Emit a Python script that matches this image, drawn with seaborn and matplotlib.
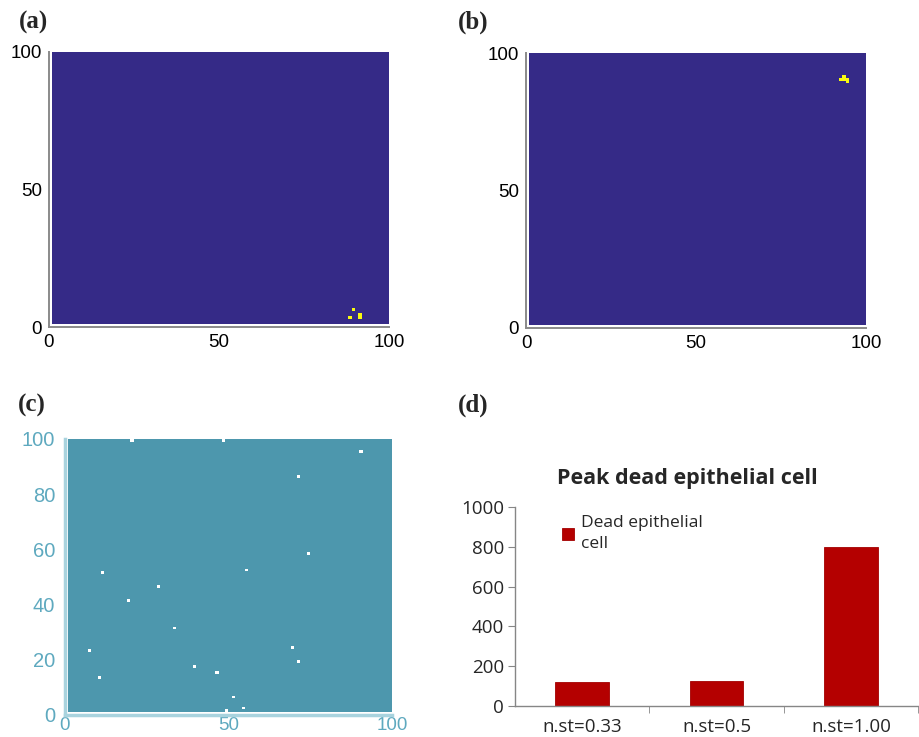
import numpy as np
import pandas as pd
import matplotlib
matplotlib.use("Agg")
import matplotlib.pyplot as plt
import seaborn as sns
from matplotlib.colors import ListedColormap

# ---------------- data ----------------
# lower-left corner (data units) of the yellow cells in maps (a) and (b)
a_cells_x = [89, 88, 91, 91]
a_cells_y = [6, 3, 3, 4]
b_cells_x = [93, 92, 93, 94, 94]
b_cells_y = [91, 90, 90, 90, 89]
# white cells in map (c)
c_dots_x = [20, 48, 90, 71, 74, 55, 11, 28, 19, 33, 7, 69, 71, 39, 46, 10, 51, 54, 49]
c_dots_y = [99, 99, 95, 86, 58, 52, 51, 46, 41, 31, 23, 24, 19, 17, 15, 13, 6, 2, 1]

map_ticks = [0, 50, 100]
c_xticks = [0, 50, 100]
c_yticks = [0, 20, 40, 60, 80, 100]

categories = ["n.st=0.33", "n.st=0.5", "n.st=1.00"]
dead_cells = [120, 128, 800]
series_name = "Dead epithelial\ncell"
bar_yticks = [0, 200, 400, 600, 800, 1000]

# ---------------- style ----------------
sns.set_style("white")
plt.rcParams["font.family"] = ["Liberation Sans", "DejaVu Sans"]

W, H = 920, 737
fig = plt.figure(figsize=(W / 100, H / 100), dpi=100)


def px_axes(x0, y_top, x1, y_bot):
    return fig.add_axes([x0 / W, 1 - y_bot / H, (x1 - x0) / W, (y_bot - y_top) / H])


def make_grid(xs, ys, n=99):
    g = np.zeros((n, n))
    for x, y in zip(xs, ys):
        g[y - 1, x - 1] = 1
    return pd.DataFrame(g)


parula_blue = "#352a87"
parula_yellow = "#f9fb0e"
axis_gray = "#8a8a8a"


def style_map(ax, ticks, color, labelcolor, fs, lw=1.4):
    ax.set_xlim(-1, 99)
    ax.set_ylim(-1, 99)
    ax.set_xticks([t - 1 for t in ticks])
    ax.set_xticklabels([str(t) for t in ticks])
    ax.set_yticks([t - 1 for t in ticks])
    ax.set_yticklabels([str(t) for t in ticks], rotation=0)
    for s in ["left", "bottom"]:
        ax.spines[s].set_visible(True)
        ax.spines[s].set_color(color)
        ax.spines[s].set_linewidth(lw)
    for s in ["top", "right"]:
        ax.spines[s].set_visible(False)
    ax.tick_params(axis="both", direction="in", length=4, width=1, color=color,
                   labelsize=fs, labelcolor=labelcolor, pad=5)
    ax.set_xlabel("")
    ax.set_ylabel("")


# (a)
ax_a = px_axes(49, 52, 389, 327)
sns.heatmap(make_grid(a_cells_x, a_cells_y), cmap=ListedColormap([parula_blue, parula_yellow]),
            vmin=0, vmax=1, cbar=False, xticklabels=False, yticklabels=False, ax=ax_a)
style_map(ax_a, map_ticks, axis_gray, "black", 13.5)

# (b)
ax_b = px_axes(526, 53, 866, 328)
sns.heatmap(make_grid(b_cells_x, b_cells_y), cmap=ListedColormap([parula_blue, parula_yellow]),
            vmin=0, vmax=1, cbar=False, xticklabels=False, yticklabels=False, ax=ax_b)
style_map(ax_b, map_ticks, axis_gray, "black", 13.5)

# (c)
teal = "#4d97ad"
teal_light = "#a9d3de"
teal_text = "#5ea9bf"
ax_c = px_axes(65, 439, 392, 715)
sns.heatmap(make_grid(c_dots_x, c_dots_y), cmap=ListedColormap([teal, "white"]),
            vmin=0, vmax=1, cbar=False, xticklabels=False, yticklabels=False, ax=ax_c)
ax_c.set_xlim(-1, 99)
ax_c.set_ylim(-1, 99)
ax_c.set_xticks([t - 1 for t in c_xticks])
ax_c.set_xticklabels([str(t) for t in c_xticks])
ax_c.set_yticks([t - 1 for t in c_yticks])
ax_c.set_yticklabels([str(t) for t in c_yticks], rotation=0)
for s in ["left", "bottom"]:
    ax_c.spines[s].set_visible(True)
    ax_c.spines[s].set_color(teal_light)
    ax_c.spines[s].set_linewidth(2.5)
for s in ["top", "right"]:
    ax_c.spines[s].set_visible(False)
ax_c.tick_params(axis="both", direction="in", length=3, width=1, color=teal_light,
                 labelsize=14.5, labelcolor=teal_text, pad=7)
ax_c.tick_params(axis="x", labelsize=13.5, pad=1.5)
ax_c.set_xlabel("")
ax_c.set_ylabel("")

# (d)
bar_color = "#b40000"
ax_d = px_axes(515, 507, 918, 706)
df = pd.DataFrame({"condition": categories, "dead": dead_cells,
                   "series": [series_name] * len(categories)})
sns.barplot(data=df, x="condition", y="dead", hue="series", palette=[bar_color],
            width=0.4, saturation=1, edgecolor="#a30000", linewidth=0.6, ax=ax_d)
ax_d.set_xlim(-0.5, 2.5)
ax_d.set_ylim(0, 1000)
ax_d.set_yticks(bar_yticks)
ax_d.set_yticklabels([str(v) for v in bar_yticks])
ax_d.set_xticks(range(len(categories)))
ax_d.set_xticklabels(categories)
ax_d.set_xticks([0.5, 1.5, 2.5], minor=True)
for s in ["top", "right"]:
    ax_d.spines[s].set_visible(False)
for s in ["left", "bottom"]:
    ax_d.spines[s].set_color("#868686")
    ax_d.spines[s].set_linewidth(1.0)
ax_d.tick_params(axis="y", direction="out", length=5, color="#868686", left=True,
                 labelsize=13.5, pad=3)
ax_d.tick_params(axis="x", which="major", length=0, labelsize=13.5, pad=9)
ax_d.tick_params(axis="x", which="minor", direction="out", length=5, color="#868686",
                 bottom=True)
for lab in ax_d.get_xticklabels() + ax_d.get_yticklabels():
    lab.set_family(["Open Sans", "DejaVu Sans"])
ax_d.set_xlabel("")
ax_d.set_ylabel("")
leg = ax_d.legend(loc="upper left", bbox_to_anchor=(562 / W, 1 - 515 / H),
                  bbox_transform=fig.transFigure, frameon=False, handlelength=0.7,
                  handleheight=0.7, handletextpad=0.4, borderaxespad=0, borderpad=0,
                  prop={"family": ["Open Sans", "DejaVu Sans"], "size": 12.5})
for t in leg.get_texts():
    t.set_linespacing(1.45)
fig.text(687 / W, 1 - 478 / H, "Peak dead epithelial cell", ha="center", va="center",
         fontsize=15.5, fontweight="bold", family=["Open Sans", "DejaVu Sans"])

# panel labels
for lbl, x, y in [("(a)", 19, 22), ("(b)", 458, 22), ("(c)", 18, 405), ("(d)", 458, 405)]:
    fig.text(x / W, 1 - y / H, lbl, ha="left", va="center", fontsize=18,
             fontweight="bold", family=["Liberation Serif", "DejaVu Serif"])

fig.savefig("out.png", dpi=100)
